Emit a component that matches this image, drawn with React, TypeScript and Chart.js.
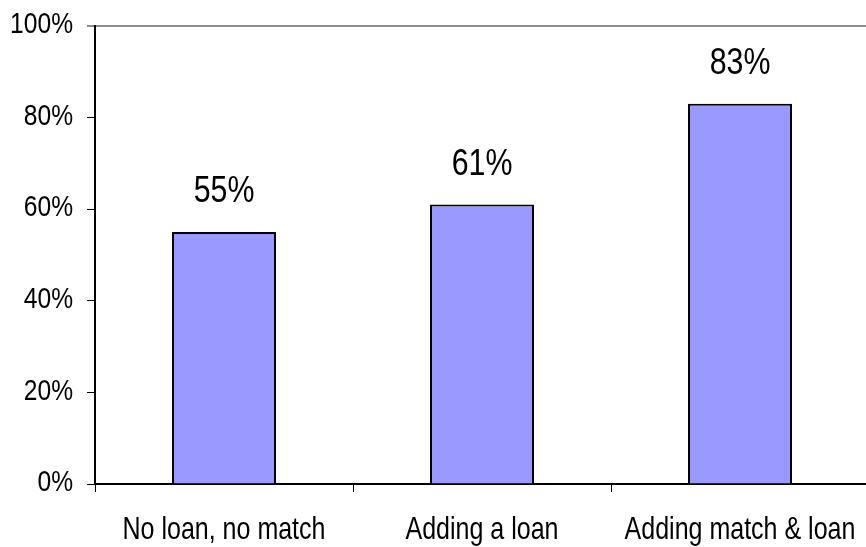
import React, { useEffect, useRef } from "react";
import { Chart, registerables } from "chart.js";

Chart.register(...registerables);

const categories = ["No loan, no match", "Adding a loan", "Adding match & loan"];
const values = [55, 61, 83];
const yTicks = [0, 20, 40, 60, 80, 100];

const FONT = "'Liberation Sans', Arial, sans-serif";
const NARROW = 0.82;

function drawNarrow(ctx: CanvasRenderingContext2D, text: string, x: number, y: number) {
  ctx.save();
  ctx.translate(x, y);
  ctx.scale(NARROW, 1);
  ctx.fillText(text, 0, 0);
  ctx.restore();
}

const textPlugin = {
  id: "narrowText",
  afterDraw(chart: any) {
    const ctx = chart.ctx;
    ctx.save();
    ctx.fillStyle = "#000";

    // data labels
    ctx.font = `37px ${FONT}`;
    ctx.textAlign = "center";
    ctx.textBaseline = "alphabetic";
    const meta = chart.getDatasetMeta(0);
    meta.data.forEach((el: any, i: number) => {
      drawNarrow(ctx, `${values[i]}%`, el.x, el.y - 30);
    });

    // x tick labels
    ctx.font = `30.5px ${FONT}`;
    const xs = chart.scales.x;
    xs.ticks.forEach((t: any, i: number) => {
      const label = categories[t.value] ?? categories[i];
      drawNarrow(ctx, label, xs.getPixelForTick(i), 539);
    });

    // y tick labels
    ctx.font = `30px ${FONT}`;
    const ys = chart.scales.y;
    ctx.textAlign = "right";
    ctx.textBaseline = "middle";
    ys.ticks.forEach((t: any) => {
      drawNarrow(ctx, `${t.value}%`, 73, ys.getPixelForValue(t.value) - 1);
    });
    ctx.restore();
  },
};

export default function App() {
  const ref = useRef<HTMLCanvasElement>(null);
  useEffect(() => {
    if (!ref.current) return;
    const chart = new Chart(ref.current, {
      type: "bar",
      data: {
        labels: categories,
        datasets: [
          {
            data: values,
            backgroundColor: "#9999ff",
            borderColor: "#000",
            borderWidth: 2,
            barPercentage: 0.403,
            categoryPercentage: 1,
          },
        ],
      },
      options: {
        animation: false,
        responsive: false,
        maintainAspectRatio: false,
        layout: { padding: { top: 26, right: 3, left: 0, bottom: 0 } },
        plugins: { legend: { display: false }, tooltip: { enabled: false } },
        scales: {
          x: {
            grid: {
              offset: true,
              color: "rgba(0,0,0,0)",
              tickColor: "#000",
              tickLength: 8,
              lineWidth: 1,
            },
            border: { color: "#000", width: 2 },
            ticks: { display: false, autoSkip: false, maxRotation: 0 },
            afterFit(scale: any) {
              scale.height = 63;
            },
          },
          y: {
            min: 0,
            max: 100,
            afterBuildTicks(scale: any) {
              scale.ticks = yTicks.map((v) => ({ value: v }));
            },
            grid: {
              color: (c: any) => (c.tick && c.tick.value === 100 ? "#8c8c8c" : "rgba(0,0,0,0)"),
              tickColor: (c: any) => (c.tick && c.tick.value === 100 ? "#8c8c8c" : "#000"),
              tickLength: 8,
              lineWidth: (c: any) => (c.tick && c.tick.value === 100 ? 2 : 1),
            },
            border: { color: "#000", width: 2 },
            ticks: { display: false },
            afterFit(scale: any) {
              scale.width = 95;
            },
          },
        },
      },
      plugins: [textPlugin],
    });
    return () => chart.destroy();
  }, []);
  return (
    <div style={{ position: "absolute", left: 0, top: 0, width: 866, height: 547, overflow: "hidden", background: "#fff" }}>
      <canvas ref={ref} width={872} height={547} style={{ display: "block" }} />
    </div>
  );
}
